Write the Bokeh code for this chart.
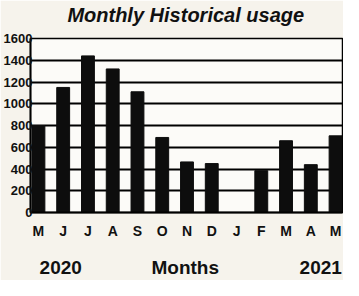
from bokeh.plotting import figure
from bokeh.models import FixedTicker, Range1d, LinearAxis
from bokeh.embed import file_html
from bokeh.resources import INLINE

months = ["M", "J", "J", "A", "S", "O", "N", "D", "J", "F", "M", "A", "M"]
usage = [800, 1150, 1440, 1320, 1110, 690, 465, 450, 0, 385, 660, 440, 705]
y_ticks = [0, 200, 400, 600, 800, 1000, 1200, 1400, 1600]
title_text = "Monthly Historical usage"
title_pos = 5.95
bottom_labels = ["2020", "Months", "2021"]
bottom_pos = [0.9, 5.93, 11.4]

xs = list(range(len(months)))

p = figure(width=343, height=280, output_backend="svg", toolbar_location=None,
           x_range=Range1d(-0.32, 12.28), y_range=Range1d(0, 1600),
           min_border_left=29, min_border_right=1, min_border_top=38, min_border_bottom=66)

p.border_fill_color = "#f6f3ec"
p.background_fill_color = "#fcfbf8"
p.outline_line_color = "black"
p.outline_line_width = 1.5

p.vbar(x=xs, top=usage, width=0.52, color="#0d0d0d")

p.xgrid.visible = False
p.ygrid.ticker = FixedTicker(ticks=y_ticks)
p.ygrid.grid_line_color = "black"
p.ygrid.grid_line_width = 1.8
p.ygrid.level = "underlay"

p.yaxis.ticker = FixedTicker(ticks=y_ticks)
p.xaxis.ticker = FixedTicker(ticks=xs)
p.xaxis.major_label_overrides = {i: m for i, m in enumerate(months)}
for ax in (p.xaxis, p.yaxis):
    ax.major_tick_line_color = None
    ax.minor_tick_line_color = None
    ax.major_tick_out = 0
    ax.major_tick_in = 0
    ax.axis_line_color = "black"
    ax.axis_line_width = 1.8
    ax.major_label_text_font = "Liberation Sans"
    ax.major_label_text_font_style = "bold"
    ax.major_label_text_color = "#111111"
p.yaxis.major_label_text_font_size = "13px"
p.xaxis.major_label_text_font_size = "14px"
p.yaxis.major_label_standoff = -2
p.xaxis.major_label_standoff = 10


def text_axis(ticks, labels, size, style, standoff):
    ax = LinearAxis(ticker=FixedTicker(ticks=ticks),
                    major_label_overrides={t: s for t, s in zip(ticks, labels)})
    ax.axis_line_color = None
    ax.major_tick_line_color = None
    ax.minor_tick_line_color = None
    ax.major_tick_out = 0
    ax.major_tick_in = 0
    ax.major_label_standoff = standoff
    ax.major_label_text_font = "Liberation Sans"
    ax.major_label_text_font_style = style
    ax.major_label_text_font_size = size
    ax.major_label_text_color = "#111111"
    return ax


# title as a single label above the frame
p.add_layout(text_axis([title_pos], [title_text], "20px", "bold italic", 13), "above")
# years and the "Months" title on one line below the month letters
p.add_layout(text_axis(bottom_pos, bottom_labels, "19px", "bold", 15), "below")

open("out.html", "w").write(file_html(p, INLINE))
